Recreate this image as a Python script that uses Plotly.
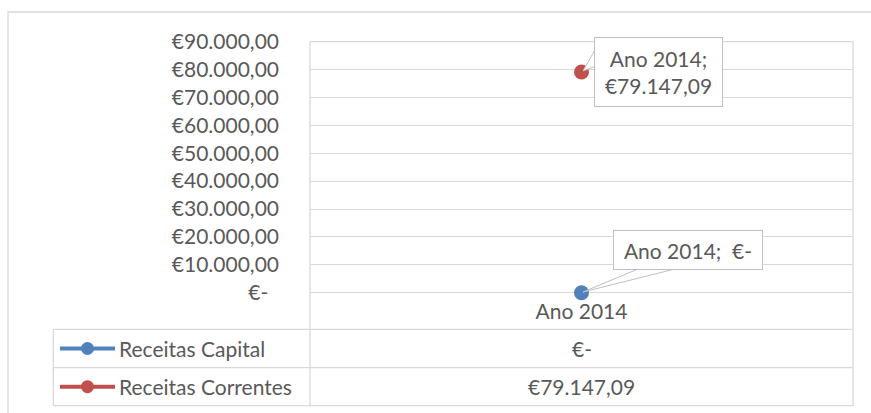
import plotly.graph_objects as go

# ---------------- data ----------------
categories = ["Ano 2014"]
series_names = ["Receitas Capital", "Receitas Correntes"]
receitas_capital = [0.0]
receitas_correntes = [79147.09]
series_colors = ["#4f81bd", "#c0504d"]
y_tickvals = [0, 10000, 20000, 30000, 40000, 50000, 60000, 70000, 80000, 90000]
y_ticktext = ["€-\u00a0\u00a0", "€10.000,00", "€20.000,00", "€30.000,00", "€40.000,00",
              "€50.000,00", "€60.000,00", "€70.000,00", "€80.000,00", "€90.000,00"]


def eur(v):
    if v == 0:
        return "€-"
    s = f"{v:,.2f}"
    return "€" + s.replace(",", "#").replace(".", ",").replace("#", ".")


W, H = 871, 413
FONT = "Lato, 'Open Sans', sans-serif"
FS = 21
TXT = "#595959"
GRID = "#d9d9d9"
LBL = "#bfbfbf"


def px(x):
    return x / W


def py(y):
    return 1 - y / H


# layout geometry (pixels)
PX0, PX1 = 310, 853
PTOP, PZERO = 41.7, 292.7
TBL_L = 53.3
ROWS = [329.3, 367.7, 405.7]

fig = go.Figure()
all_series = [receitas_capital, receitas_correntes]
for name, vals, col in zip(series_names, all_series, series_colors):
    fig.add_trace(go.Scatter(
        x=categories, y=vals, name=name, mode="markers+lines",
        marker=dict(color=col, size=15),
        line=dict(color=col, width=3.5), cliponaxis=False,
        showlegend=False, hoverinfo="skip"))

shapes = []
lc = dict(color=GRID, width=1.3)
# outer chart frame (cut at right/bottom)
shapes.append(dict(type="rect", xref="paper", yref="paper",
                   x0=px(8), x1=px(W + 10), y0=py(12), y1=py(H + 10),
                   line=dict(color=GRID, width=1.3)))
# plot frame
shapes.append(dict(type="line", xref="paper", yref="paper", x0=px(PX0), x1=px(PX1),
                   y0=py(PTOP), y1=py(PTOP), line=lc))
shapes.append(dict(type="line", xref="paper", yref="paper", x0=px(PX0), x1=px(PX0),
                   y0=py(PTOP), y1=py(ROWS[-1]), line=lc))
shapes.append(dict(type="line", xref="paper", yref="paper", x0=px(PX1), x1=px(PX1),
                   y0=py(PTOP), y1=py(ROWS[-1]), line=lc))
# table
for r in ROWS:
    shapes.append(dict(type="line", xref="paper", yref="paper", x0=px(TBL_L), x1=px(PX1),
                       y0=py(r), y1=py(r), line=lc))
shapes.append(dict(type="line", xref="paper", yref="paper", x0=px(TBL_L), x1=px(TBL_L),
                   y0=py(ROWS[0]), y1=py(ROWS[-1]), line=lc))


def wedge(pts):
    p = "M " + " L ".join(f"{px(x):.5f} {py(y):.5f}" for x, y in pts) + " Z"
    return dict(type="path", xref="paper", yref="paper", path=p,
                fillcolor="white", line=dict(color=LBL, width=1), layer="above")


# callout pointers of the data labels
shapes.append(wedge([(596, 48), (583, 71), (596, 66)]))
shapes.append(wedge([(638, 269), (583, 292), (675, 269)]))

annotations = []
for i, (name, vals, col) in enumerate(zip(series_names, all_series, series_colors)):
    yc = (ROWS[i] + ROWS[i + 1]) / 2
    # legend key
    shapes.append(dict(type="line", xref="paper", yref="paper", x0=px(60), x1=px(115),
                       y0=py(yc), y1=py(yc), line=dict(color=col, width=4)))
    shapes.append(dict(type="circle", xref="paper", yref="paper",
                       x0=px(87.5 - 6.5), x1=px(87.5 + 6.5), y0=py(yc - 6.5), y1=py(yc + 6.5),
                       fillcolor=col, line=dict(color=col, width=0)))
    annotations.append(dict(xref="paper", yref="paper", x=px(117), y=py(yc),
                            xanchor="left", yanchor="middle", showarrow=False,
                            text=name, font=dict(family=FONT, size=FS, color=TXT)))
    annotations.append(dict(xref="paper", yref="paper", x=px((PX0 + PX1) / 2), y=py(yc),
                            xanchor="center", yanchor="middle", showarrow=False,
                            text=eur(vals[0]), font=dict(family=FONT, size=FS, color=TXT)))

# data labels (callouts)
annotations.append(dict(x=categories[0], y=receitas_correntes[0], xref="x", yref="y",
                        text=f"{categories[0]};<br>{eur(receitas_correntes[0])}",
                        showarrow=False, xshift=77, yshift=0,
                        bgcolor="white", bordercolor=LBL, borderwidth=1, borderpad=3,
                        width=121, height=62,
                        font=dict(family=FONT, size=FS, color=TXT)))
annotations.append(dict(x=categories[0], y=receitas_capital[0], xref="x", yref="y",
                        text=f"{categories[0]};\u00a0\u00a0{eur(receitas_capital[0])}",
                        showarrow=False, xshift=106, yshift=43,
                        bgcolor="white", bordercolor=LBL, borderwidth=1, borderpad=3,
                        width=142, height=32,
                        font=dict(family=FONT, size=FS, color=TXT)))

fig.update_layout(
    width=W, height=H, margin=dict(l=0, r=0, t=0, b=0, pad=0, autoexpand=False),
    paper_bgcolor="white", plot_bgcolor="white",
    showlegend=False,
    font=dict(family=FONT, size=FS, color=TXT),
    xaxis=dict(domain=[px(PX0), px(PX1)], type="category", range=[-0.5, 0.5],
               showgrid=False, showline=False, zeroline=False, ticks="", automargin=False,
               tickfont=dict(family=FONT, size=FS, color=TXT), ticklabelstandoff=4),
    yaxis=dict(domain=[py(PZERO), py(PTOP)], range=[0, 90000], automargin=False,
               tickvals=y_tickvals, ticktext=y_ticktext,
               showgrid=True, gridcolor=GRID, gridwidth=1.3,
               zeroline=True, zerolinecolor=GRID, zerolinewidth=1.3,
               showline=False, ticks="", ticklabelstandoff=30,
               tickfont=dict(family=FONT, size=FS, color=TXT)),
    shapes=shapes, annotations=annotations,
)
fig.write_html("out.html", config={"displayModeBar": False},
               post_script="document.body.style.margin='0';")
